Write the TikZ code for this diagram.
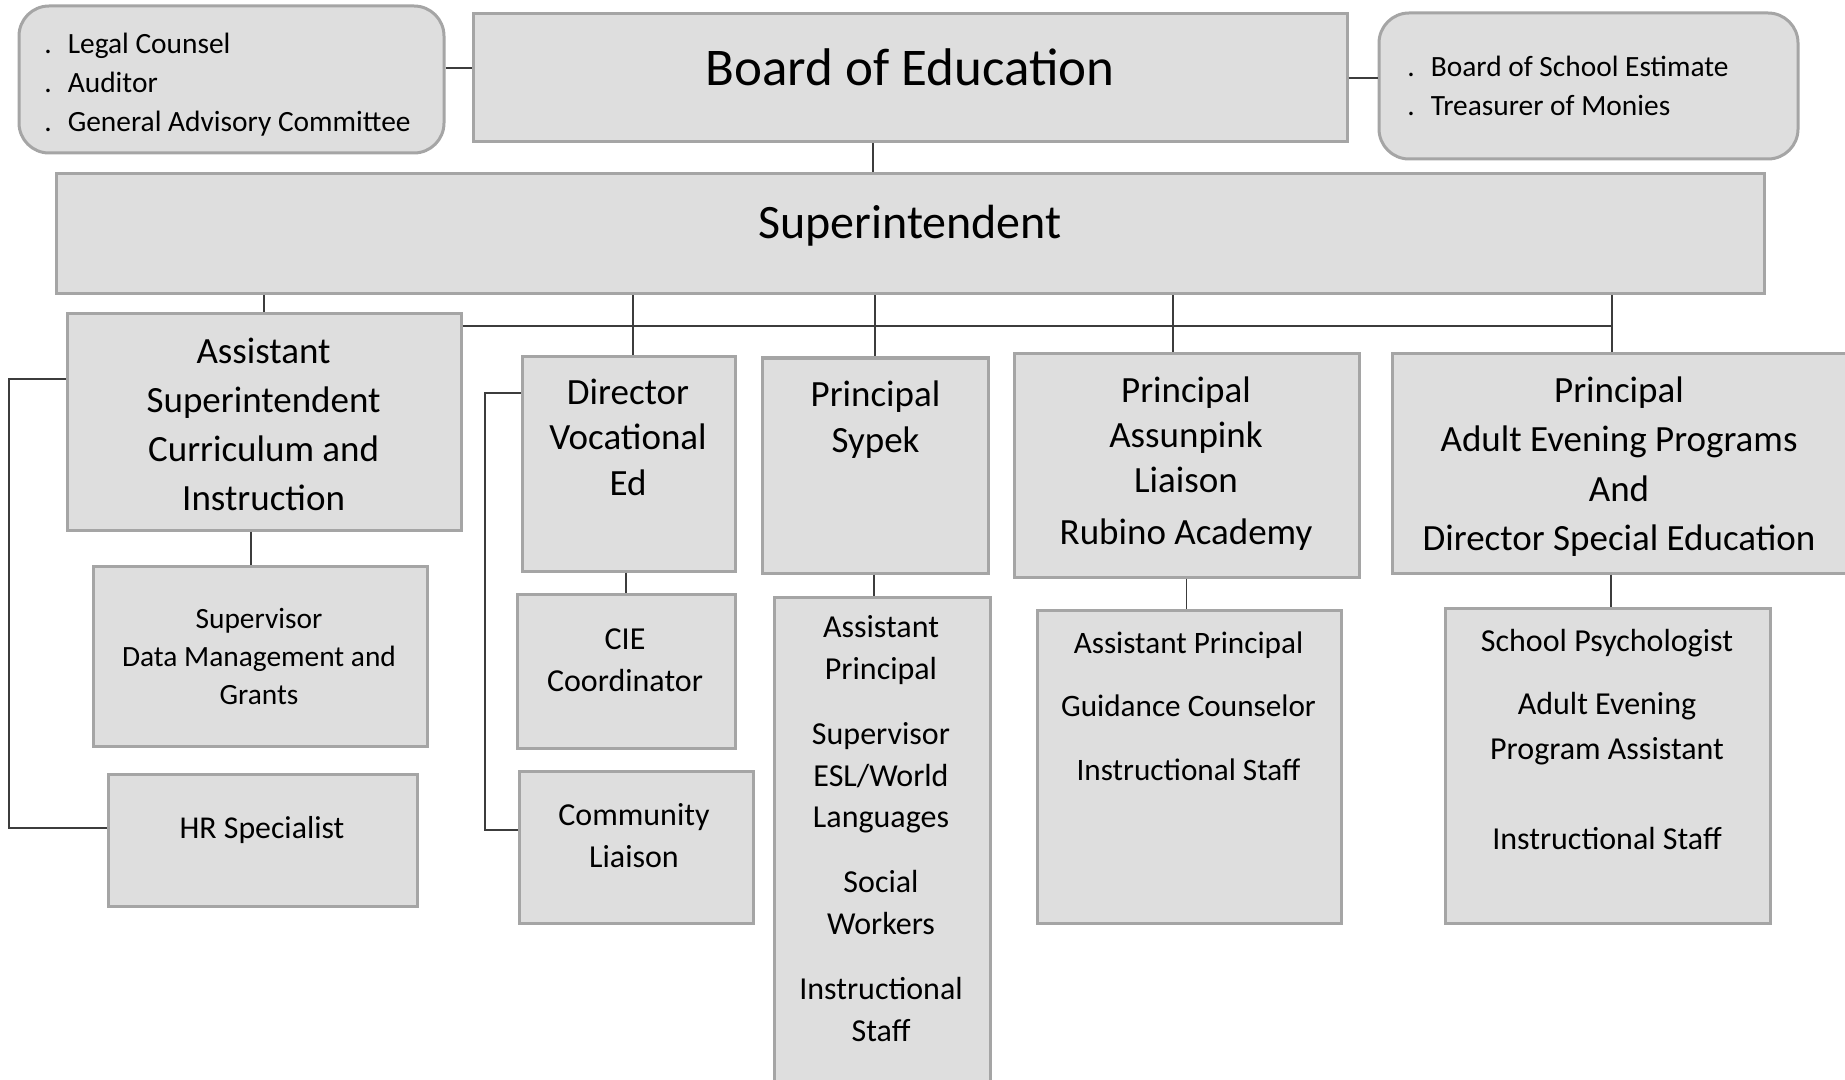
\documentclass[tikz,border=0pt]{standalone}
\usepackage{fontspec}
\setmainfont{Carlito}
\definecolor{boxfill}{RGB}{222,222,222}
\definecolor{boxline}{RGB}{165,165,165}
\definecolor{wire}{RGB}{60,60,60}
\tikzset{box/.style={
            draw=boxline,
            fill=boxfill,
            line width=1.5pt,
            inner sep=0pt
        },
        roundbox/.style={
            box,
            rounded corners=15pt
        },
        title/.style={
            align=center,
            inner sep=0pt
        },
        link/.style={
            draw=wire,
            line width=0.9pt
        }
    }
\newcommand{\listdot}{.\hspace{8pt}}

\begin{document}
\begin{tikzpicture}[x=0.5pt,y=-0.5pt]
        \useasboundingbox (0,0) rectangle (1845,1080);
        \clip (0,0) rectangle (1845,1080);

        % top level
        \node[roundbox,minimum width=212.5pt,minimum height=73.5pt] (legal) at (231.5,79.5) {};
        \node[box,minimum width=437pt,minimum height=64pt] (board) at (910,78) {};
        \node[roundbox,minimum width=209.5pt,minimum height=73pt] (estim) at (1588.5,86) {};
        \node[box,minimum width=854pt,minimum height=60pt] (supt) at (910,234) {};

        % second row
        \node[box,minimum width=197pt,minimum height=108pt] (asup) at (264,422) {};
        \node[box,minimum width=106.5pt,minimum height=107pt] (dirv) at (628.5,464) {};
        \node[box,minimum width=113pt,minimum height=107.5pt] (psyp) at (875,465.5) {};
        \node[box,minimum width=172.5pt,minimum height=111.5pt] (passu) at (1186.5,465.5) {};
        \node[box,minimum width=227pt,minimum height=109.5pt] (padult) at (1619,463.5) {};

        % third row
        \node[box,minimum width=167pt,minimum height=90pt] (superv) at (260,656) {};
        \node[box,minimum width=154.5pt,minimum height=66pt] (hr) at (262.5,840) {};
        \node[box,minimum width=109pt,minimum height=77pt] (cie) at (626,671) {};
        \node[box,minimum width=117pt,minimum height=76pt] (comm) at (636,847) {};
        \node[box,minimum width=108pt,minimum height=251.5pt] (sypsub) at (882,848.5) {};
        \node[box,minimum width=152pt,minimum height=156.5pt] (assusub) at (1189,766.5) {};
        \node[box,minimum width=162.5pt,minimum height=157.5pt] (adultsub) at (1607.5,765.5) {};

        % texts
        \node[title,align=left,anchor=west,font=\fontsize{14.7}{19.5}\selectfont] (legal-t) at (44,84.5)
            {\listdot Legal Counsel\\ \listdot Auditor\\ \listdot General Advisory Committee};
        \node[title,font=\fontsize{26.5}{32}\selectfont] (board-t) at (910,67) {Board of Education};
        \node[title,align=left,anchor=west,font=\fontsize{14.7}{19.5}\selectfont] (estim-t) at (1407,85.5)
            {\listdot Board of School Estimate\\ \listdot Treasurer of Monies};
        \node[title,font=\fontsize{24}{29}\selectfont] (supt-t) at (910,225.5) {Superintendent};

        \node[title,font=\fontsize{18.5}{24.5}\selectfont] (asup-t) at (263.6,424)
            {Assistant\\ Superintendent\\ Curriculum and\\ Instruction};
        \node[title,font=\fontsize{18.5}{22.7}\selectfont] (dirv-t) at (628,437) {Director\\ Vocational\\ Ed};
        \node[title,font=\fontsize{18.5}{23}\selectfont] (psyp-t) at (875.5,419.5) {Principal\\ Sypek};
        \node[title,font=\fontsize{18.5}{22.7}\selectfont] (passu-t) at (1186,463.5)
            {Principal\\ Assunpink\\ Liaison\\[3.2pt] Rubino Academy};
        \node[title,font=\fontsize{18.5}{24.7}\selectfont] (padult-t) at (1619,466.5)
            {Principal\\ Adult Evening Programs\\ And\\ Director Special Education};

        \node[title,font=\fontsize{14.7}{19}\selectfont] (superv-t) at (259,656)
            {Supervisor\\ Data Management and\\ Grants};
        \node[title,font=\fontsize{15.9}{20}\selectfont] (hr-t) at (262,830.5) {HR Specialist};
        \node[title,font=\fontsize{16}{21.2}\selectfont] (cie-t) at (625,660) {CIE\\ Coordinator};
        \node[title,font=\fontsize{16}{21.2}\selectfont] (comm-t) at (634,835.5) {Community\\ Liaison};
        \node[title,font=\fontsize{16}{20.9}\selectfont] (sypsub-t) at (881,828.5)
            {Assistant\\ Principal\\[11.5pt] Supervisor\\ ESL/World\\ Languages\\[11.5pt]
             Social\\ Workers\\[11.5pt] Instructional\\ Staff};
        \node[title,font=\fontsize{15.6}{31.8}\selectfont] (assusub-t) at (1188.5,706)
            {Assistant Principal\\ Guidance Counselor\\ Instructional Staff};
        \node[title,font=\fontsize{16}{22.4}\selectfont] (adultsub-t) at (1607,739)
            {School Psychologist\\[9.3pt] Adult Evening\\ Program Assistant\\[22.5pt] Instructional Staff};

        % connectors
        \draw[link] (legal.east |- 0,68) -- (board.west |- 0,68);
        \draw[link] (board.east) -- (board.east -| estim.west);
        \draw[link] (board.south -| 873,0) -- (supt.north -| 873,0);
        \draw[link] (supt.south -| asup.north) -- (asup.north);
        \draw[link] (asup.east |- 0,326) -- (1612,326);
        \foreach \x/\n in {633/dirv,875/psyp,1173/passu,1612/padult}
            \draw[link] (supt.south -| \x,0) -- (\n.north -| \x,0);

        \draw[link] (asup.south -| 251,0) -- (superv.north -| 251,0);
        \draw[link] (asup.west |- 0,379) -| (9,828) -- (hr.west |- 0,828);
        \draw[link] (dirv.south -| cie.north) -- (cie.north);
        \draw[link] (dirv.west |- 0,393) -| (485,830) -- (comm.west |- 0,830);
        \draw[link] (psyp.south -| 874,0) -- (sypsub.north -| 874,0);
        \draw[link] (passu.south) -- (passu.south |- assusub.north);
        \draw[link] (padult.south -| 1611,0) -- (adultsub.north -| 1611,0);

    \end{tikzpicture}
\end{document}
